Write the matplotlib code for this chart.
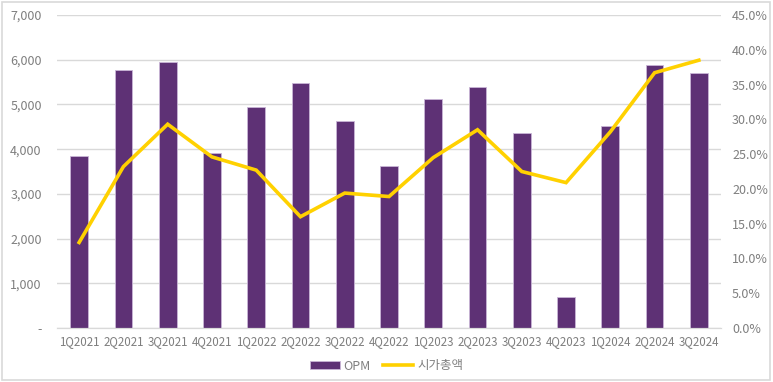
import numpy as np
import matplotlib
matplotlib.use('Agg')
import matplotlib.pyplot as plt
from matplotlib.ticker import FuncFormatter, MultipleLocator
from matplotlib.patches import Rectangle

plt.rcParams['font.family'] = ['Noto Sans CJK KR', 'DejaVu Sans']

quarters = ['1Q2021', '2Q2021', '3Q2021', '4Q2021', '1Q2022', '2Q2022', '3Q2022',
            '4Q2022', '1Q2023', '2Q2023', '3Q2023', '4Q2023', '1Q2024', '2Q2024', '3Q2024']
opm = [3840, 5770, 5950, 3910, 4950, 5470, 4630, 3630, 5120, 5380, 4360, 700,
       4520, 5880, 5700]
market_cap = [12.3, 23.2, 29.3, 24.6, 22.7, 16.0, 19.4, 18.9, 24.5, 28.5, 22.5, 20.9,
              28.2, 36.7, 38.5]

bar_color = '#5e3175'
line_color = '#ffd100'
text_color = '#7f7f7f'
grid_color = '#d9d9d9'

fig = plt.figure(figsize=(7.73, 3.82), dpi=100)
ax = fig.add_axes([57 / 773, 1 - 328 / 382, (721 - 57) / 773, (328 - 15) / 382])
ax2 = ax.twinx()

x = np.arange(len(quarters))
bars = ax.bar(x, opm, width=0.4, color=bar_color, edgecolor='#c9b6d6', linewidth=0.6,
              label='OPM', zorder=2)
line, = ax2.plot(x, market_cap, color=line_color, lw=2.6, label='시가총액',
                 solid_joinstyle='miter', zorder=3)

ax.set_xlim(-0.5, len(quarters) - 0.5)
ax.set_ylim(0, 7000)
ax.yaxis.set_major_locator(MultipleLocator(1000))
ax.yaxis.set_major_formatter(FuncFormatter(lambda v, p: '-' if v == 0 else f'{v:,.0f}'))
ax.set_xticks(x)
ax.set_xticklabels(quarters)

ax2.set_ylim(0, 45)
ax2.yaxis.set_major_locator(MultipleLocator(5))
ax2.yaxis.set_major_formatter(FuncFormatter(lambda v, p: f'{v:.1f}%'))

ax.grid(axis='y', color=grid_color, lw=1, zorder=0)
ax.set_axisbelow(True)
for a in (ax, ax2):
    for s in ['top', 'left', 'right']:
        a.spines[s].set_visible(False)
    a.spines['bottom'].set_color(grid_color)
    a.tick_params(length=0, colors=text_color, labelsize=9)
ax.tick_params(axis='y', pad=11)
ax.tick_params(axis='x', pad=5, labelsize=8.3)
ax2.tick_params(axis='y', pad=8)

ax2.set_zorder(ax.get_zorder() + 1)
ax2.patch.set_visible(False)

fig.legend([bars, line], ['OPM', '시가총액'], loc='center', bbox_to_anchor=(0.5, 1 - 366 / 382),
           ncol=2, frameon=False, fontsize=9, labelcolor=text_color,
           handlelength=2.4, handleheight=0.6, columnspacing=1.0, handletextpad=0.3)

fig.patches.append(Rectangle((0.002, 0.004), 0.994, 0.992, transform=fig.transFigure,
                             fill=False, edgecolor='#d9d9d9', lw=1.2))

fig.savefig('out.png', dpi=100)
